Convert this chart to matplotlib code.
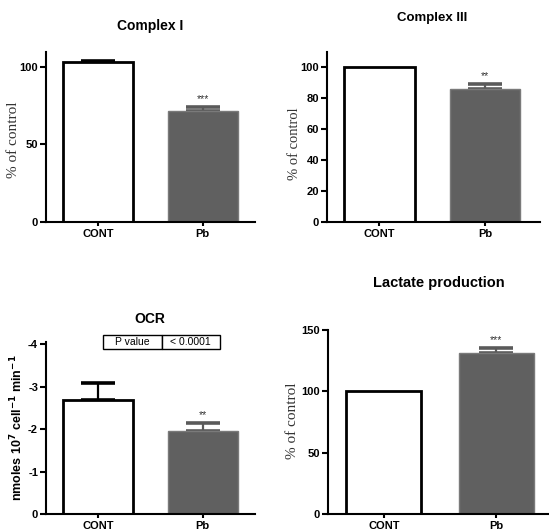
import matplotlib
matplotlib.use("Agg")
import matplotlib.pyplot as plt

plt.rcParams["axes.unicode_minus"] = False

groups = ["CONT", "Pb"]

complex1 = [103.5, 71.6]
complex1_err = [0.3, 2.6]
complex3 = [100.0, 85.8]
complex3_err = [0.0, 3.0]
ocr = [-2.68, -1.96]
ocr_err = [0.40, 0.18]
lactate = [100.0, 131.0]
lactate_err = [0.0, 4.0]

stars = {"c1": "***", "c3": "**", "ocr": "**", "lac": "***"}

W, H = 549, 531
sans = ["Liberation Sans Narrow", "Liberation Sans", "DejaVu Sans"]
serif = ["Liberation Serif", "DejaVu Serif"]

fig = plt.figure(figsize=(W / 100, H / 100), dpi=100)


def px_axes(x0, x1, ytop, ybot):
    return fig.add_axes([x0 / W, 1 - ybot / H, (x1 - x0) / W, (ybot - ytop) / H])


def draw(ax, vals, errs, star, ylim, yticks, xlim):
    colors = ["white", "#606060"]
    edges = ["black", "#7a7a7a"]
    lws = [2, 1]
    ecols = ["black", "#5a5a5a"]
    for i, (v, e) in enumerate(zip(vals, errs)):
        ax.bar(i, v, width=0.67, color=colors[i], edgecolor=edges[i],
               linewidth=lws[i], zorder=2)
        if e > 0:
            yerr = [[0], [e]] if v > 0 else [[e], [0]]
            ax.errorbar(i, v, yerr=yerr, color=ecols[i], elinewidth=1.6,
                        capsize=12.5, capthick=2.6, zorder=1)
    tip = vals[1] + errs[1] if vals[1] > 0 else vals[1] - errs[1]
    ax.annotate(star, (1, tip), xytext=(0, 6), textcoords="offset points",
                ha="center", va="center", fontsize=7.5, color="#333333",
                family=sans)
    ax.set_xlim(*xlim)
    ax.set_ylim(*ylim)
    ax.set_yticks(yticks)
    ax.set_xticks([0, 1])
    ax.set_xticklabels(groups)
    for s in ["top", "right"]:
        ax.spines[s].set_visible(False)
    for s in ["left", "bottom"]:
        ax.spines[s].set_linewidth(1.5)
    ax.tick_params(axis="y", length=4, width=1.5, pad=1.5, labelsize=8)
    ax.tick_params(axis="x", length=3, width=1.5, pad=2, labelsize=8)
    for lab in ax.get_xticklabels() + ax.get_yticklabels():
        lab.set_fontweight("bold")
        lab.set_family(sans)


ax1 = px_axes(45.7, 255, 51.7, 221.7)
draw(ax1, complex1, complex1_err, stars["c1"], (0, 110), [0, 50, 100], (-0.5, 1.5))

ax2 = px_axes(326.7, 540, 51.7, 221.7)
draw(ax2, complex3, complex3_err, stars["c3"], (0, 110), [0, 20, 40, 60, 80, 100], (-0.5, 1.52))

ax3 = px_axes(45.7, 255, 341.7, 514)
draw(ax3, ocr, ocr_err, stars["ocr"], (0, -4.06), [0, -1, -2, -3, -4], (-0.5, 1.5))

ax4 = px_axes(327.7, 549, 330, 514)
draw(ax4, lactate, lactate_err, stars["lac"], (0, 150), [0, 50, 100, 150], (-0.5, 1.47))

# P value box on the OCR panel
tab = ax3.table(cellText=[["P value", "< 0.0001"]], cellLoc="center",
                bbox=[0.275, 0.957, 0.558, 0.081])
tab.auto_set_font_size(False)
for cell in tab.get_celld().values():
    cell.set_linewidth(1)
    cell.get_text().set_fontsize(7.5)
    cell.get_text().set_family(sans)


def ftext(x, y, s, **kw):
    fig.text(x / W, 1 - y / H, s, ha="center", va="center", **kw)


ftext(150, 26, "Complex I", fontsize=10, fontweight="bold", family=sans)
ftext(431.7, 18.5, "Complex III", fontsize=9.5, fontweight="bold", family=sans)
ftext(149.5, 318.7, "OCR", fontsize=10, fontweight="bold", family=sans)
ftext(439, 282.5, "Lactate production", fontsize=10.5, fontweight="bold", family=sans)

ftext(13.5, 140, "% of control", rotation=90, fontsize=11, color="#333333", family=serif)
ftext(295, 144, "% of control", rotation=90, fontsize=10.5, color="#333333", family=serif)
ftext(17, 427.5, r"nmoles 10$^{\mathbf{7}}$ cell$^{\mathbf{-1}}$ min$^{\mathbf{-1}}$",
      rotation=90, fontsize=9, fontweight="bold", family=sans)
ftext(292.5, 421, "% of control", rotation=90, fontsize=11, color="#333333", family=serif)

fig.savefig("out.png", dpi=100)
